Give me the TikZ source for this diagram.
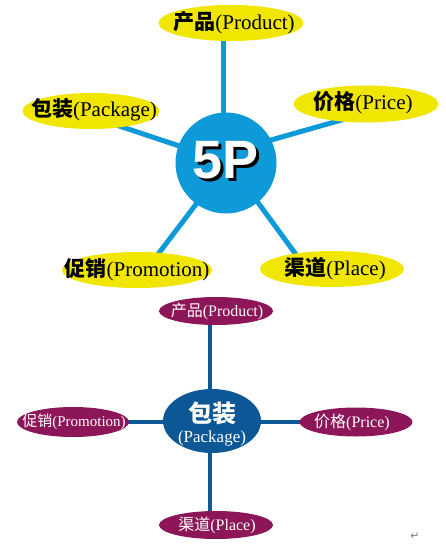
\documentclass[tikz,border=0pt]{standalone}
\usepackage{fontspec}
\setmainfont{Liberation Serif}
\newfontfamily\cjk{Noto Sans CJK SC}
\newfontfamily\sansb{Liberation Sans}
\newfontfamily\dejavu{DejaVu Sans}
\usetikzlibrary{shapes.geometric}
\definecolor{tblue}{RGB}{14,154,216}
\definecolor{yel}{RGB}{240,230,0}
\definecolor{pur}{RGB}{140,22,88}
\definecolor{dblue}{RGB}{12,88,150}
\newcommand\zh[1]{{\cjk\bfseries #1}}
\newcommand\zhr[1]{{\cjk #1}}
\pgfdeclarelayer{bg}
\pgfsetlayers{bg,main}
\begin{document}
\begin{tikzpicture}[x=1pt,y=-1pt,
  yell/.style={ellipse, fill=yel, inner sep=0pt},
  purp/.style={ellipse, fill=pur, inner sep=0pt, minimum width=114pt, minimum height=28pt},
  topt/.style={font=\fontsize{21}{21}\selectfont, text=black, inner sep=0pt},
  bott/.style={font=\fontsize{16}{16}\selectfont, text=white, inner sep=0pt},
  blueln/.style={draw=tblue, line width=5pt, shorten <=-6pt, shorten >=-6pt},
  dblueln/.style={draw=dblue, line width=4pt}]
\useasboundingbox (0,0) rectangle (445,545);
% ---------- top diagram ----------
\node[circle, fill=tblue, minimum size=101pt, inner sep=0pt] (c) at (226,163) {};
\node[yell, minimum width=145pt, minimum height=36pt] (prod) at (231,23) {};
\node[yell, minimum width=137pt, minimum height=36pt] (pack) at (91,111) {};
\node[yell, minimum width=145pt, minimum height=37pt] (price) at (366,104) {};
\node[yell, minimum width=150pt, minimum height=36pt] (promo) at (137,270) {};
\node[yell, minimum width=144pt, minimum height=36pt] (place) at (332,269) {};
\begin{pgfonlayer}{bg}
\draw[blueln] ([xshift=-3pt]c.center) -- ([xshift=-3pt]c.center |- prod.center);
\draw[blueln] (c.160) -- (pack.333);
\draw[blueln] (c.27) -- (price.211);
\draw[blueln] (c.234) -- (promo.38);
\draw[blueln] (c.309) -- (place.157);
\end{pgfonlayer}
\node[topt] (tprod) at (234,23) {\zh{产品}(Product)};
\node[topt] (tpack) at (94,110) {\zh{包装}(Package)};
\node[topt] (tprice) at (363,103) {\zh{价格}(Price)};
\node[topt] (tpromo) at (137,270) {\zh{促销}(Promotion)};
\node[topt] (tplace) at (335,269) {\zh{渠道}(Place)};
\node[font=\sansb\bfseries\fontsize{54}{54}\selectfont, inner sep=0pt] (fp) at (225.5,161.5)
  {\rlap{\kern3pt\raisebox{-3pt}{\color{black}5P}}\color{white}5P};
% ---------- bottom diagram ----------
\node[ellipse, fill=dblue, minimum width=98pt, minimum height=64pt, inner sep=0pt] (pk) at (212,421) {};
\node[purp] (bprod) at (216,311) {};
\node[purp, minimum width=112pt, minimum height=30pt] (bpromo) at (73,422) {};
\node[purp, minimum width=113pt, minimum height=29pt] (bprice) at (356,422) {};
\node[purp] (bplace) at (216,525) {};
\begin{pgfonlayer}{bg}
\draw[dblueln] ([xshift=-6pt]bprod.center) -- ([xshift=-6pt]bplace.center);
\draw[dblueln] (bpromo.center) -- (bprice.center);
\end{pgfonlayer}
\node[bott] (tbprod) at (217,311) {\zhr{产品}(Product)};
\node[bott, font=\fontsize{15}{15}\selectfont] (tbpromo) at (74,422) {\zhr{促销}(Promotion)};
\node[bott] (tbprice) at (352,422) {\zhr{价格}(Price)};
\node[bott] (tbplace) at (217,525) {\zhr{渠道}(Place)};
\node[font=\fontsize{24}{24}\selectfont, text=white, inner sep=0pt] (tpk1) at (212,413) {\zh{包装}};
\node[font=\fontsize{17}{17}\selectfont, text=white, inner sep=0pt] (tpk2) at (212,438) {(Package)};
\node[font=\dejavu\fontsize{11}{11}\selectfont, text=gray, inner sep=0pt] (ret) at (415,536) {↵};
\end{tikzpicture}
\end{document}
